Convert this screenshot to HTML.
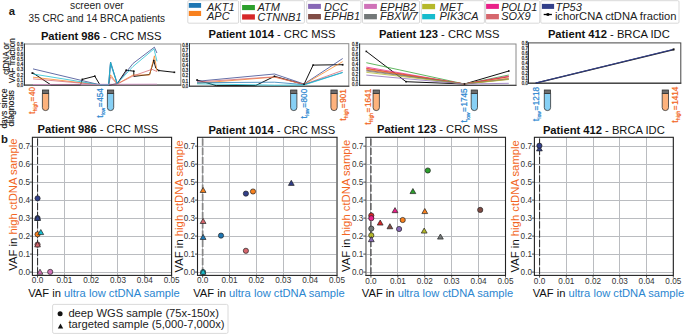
<!DOCTYPE html>
<html><head><meta charset="utf-8"><style>
html,body{margin:0;padding:0;background:#fff;}
svg{display:block;}
text{font-family:"Liberation Sans", sans-serif;}
</style></head><body>
<svg width="685" height="334" viewBox="0 0 685 334">
<rect width="685" height="334" fill="#fff"/>
<text x="8.7" y="14.9" font-size="11.3" fill="#1a1a1a" font-weight="bold" font-style="normal" text-anchor="start" >a</text>
<text x="70.0" y="8.7" font-size="10.8" fill="#222" font-weight="normal" font-style="normal" text-anchor="start" textLength="53.8" lengthAdjust="spacingAndGlyphs">screen over</text>
<text x="28.6" y="22.0" font-size="10.9" fill="#222" font-weight="normal" font-style="normal" text-anchor="start" textLength="136.4" lengthAdjust="spacingAndGlyphs">35 CRC and 14 BRCA patients</text>
<rect x="187.8" y="0.7" width="50.80" height="22.50" rx="1.2" fill="#fff" stroke="#d9d9d9" stroke-width="1"/>
<rect x="188.8" y="3.0" width="12.30" height="4.80" fill="#1f77b4"/>
<text x="207.0" y="10.5" font-size="11.0" fill="#222" font-weight="normal" font-style="italic" text-anchor="start" >AKT1</text>
<rect x="188.8" y="10.9" width="12.30" height="5.10" fill="#f8811e"/>
<text x="207.0" y="19.5" font-size="11.0" fill="#222" font-weight="normal" font-style="italic" text-anchor="start" >APC</text>
<rect x="240.5" y="0.7" width="63.90" height="22.50" rx="1.2" fill="#fff" stroke="#d9d9d9" stroke-width="1"/>
<rect x="242.1" y="5.0" width="12.80" height="5.10" fill="#2ca02c"/>
<text x="257.5" y="11.3" font-size="11.0" fill="#222" font-weight="normal" font-style="italic" text-anchor="start" >ATM</text>
<rect x="242.1" y="14.3" width="12.80" height="5.30" fill="#d62728"/>
<text x="257.5" y="20.6" font-size="11.0" fill="#222" font-weight="normal" font-style="italic" text-anchor="start" >CTNNB1</text>
<rect x="306.7" y="0.7" width="54.30" height="22.50" rx="1.2" fill="#fff" stroke="#d9d9d9" stroke-width="1"/>
<rect x="308.1" y="3.9" width="12.80" height="5.00" fill="#8868b6"/>
<text x="324.0" y="10.5" font-size="11.0" fill="#222" font-weight="normal" font-style="italic" text-anchor="start" >DCC</text>
<rect x="308.1" y="14.0" width="12.80" height="5.30" fill="#804c45"/>
<text x="324.0" y="19.5" font-size="11.0" fill="#222" font-weight="normal" font-style="italic" text-anchor="start" >EPHB1</text>
<rect x="362.5" y="0.7" width="57.00" height="22.50" rx="1.2" fill="#fff" stroke="#d9d9d9" stroke-width="1"/>
<rect x="364.1" y="3.9" width="12.80" height="5.00" fill="#cf72b8"/>
<text x="380.0" y="10.5" font-size="11.0" fill="#222" font-weight="normal" font-style="italic" text-anchor="start" >EPHB2</text>
<rect x="364.1" y="14.0" width="12.80" height="5.30" fill="#737878"/>
<text x="380.0" y="19.5" font-size="11.0" fill="#222" font-weight="normal" font-style="italic" text-anchor="start" >FBXW7</text>
<rect x="421.3" y="0.7" width="63.10" height="22.50" rx="1.2" fill="#fff" stroke="#d9d9d9" stroke-width="1"/>
<rect x="422.2" y="3.9" width="12.90" height="5.30" fill="#b5b82a"/>
<text x="439.5" y="10.5" font-size="11.0" fill="#222" font-weight="normal" font-style="italic" text-anchor="start" >MET</text>
<rect x="422.2" y="14.0" width="12.90" height="5.30" fill="#17bccd"/>
<text x="439.5" y="19.5" font-size="11.0" fill="#222" font-weight="normal" font-style="italic" text-anchor="start" >PIK3CA</text>
<rect x="485.6" y="0.7" width="54.10" height="22.50" rx="1.2" fill="#fff" stroke="#d9d9d9" stroke-width="1"/>
<rect x="486.1" y="3.9" width="12.80" height="5.00" fill="#ea2189"/>
<text x="501.2" y="10.5" font-size="11.0" fill="#222" font-weight="normal" font-style="italic" text-anchor="start" >POLD1</text>
<rect x="486.1" y="14.0" width="12.80" height="5.30" fill="#d6666d"/>
<text x="501.2" y="19.5" font-size="11.0" fill="#222" font-weight="normal" font-style="italic" text-anchor="start" >SOX9</text>
<rect x="540.8" y="0.7" width="138.20" height="22.50" rx="1.2" fill="#fff" stroke="#d9d9d9" stroke-width="1"/>
<rect x="541.9" y="3.9" width="12.20" height="5.00" fill="#323f8a"/>
<text x="555.5" y="10.5" font-size="11.0" fill="#222" font-weight="normal" font-style="italic" text-anchor="start" >TP53</text>
<line x1="543.7" y1="14.5" x2="551.9" y2="14.5" stroke="#000" stroke-width="1.3"/>
<rect x="546.6" y="13.2" width="2.6" height="2.6" fill="#000"/>
<text x="554.9" y="19.5" font-size="11.0" fill="#222" font-weight="normal" font-style="normal" text-anchor="start" textLength="121.6" lengthAdjust="spacingAndGlyphs">ichorCNA ctDNA fraction</text>
<text x="40.9" y="39.9" font-size="11.2" fill="#111"><tspan font-weight="bold">Patient 986</tspan><tspan> - CRC MSS</tspan></text>
<text x="208.6" y="38.0" font-size="11.2" fill="#111"><tspan font-weight="bold">Patient 1014</tspan><tspan> - CRC MSS</tspan></text>
<text x="378.9" y="38.0" font-size="11.2" fill="#111"><tspan font-weight="bold">Patient 123</tspan><tspan> - CRC MSS</tspan></text>
<text x="547.9" y="37.7" font-size="11.2" fill="#111"><tspan font-weight="bold">Patient 412</tspan><tspan> - BRCA IDC</tspan></text>
<rect x="24.4" y="44.0" width="156.40" height="41.10" fill="none" stroke="#8a8a8a" stroke-width="1"/>
<line x1="24.4" y1="43.5" x2="24.4" y2="85.6" stroke="#333" stroke-width="1"/>
<line x1="23.9" y1="85.1" x2="181.3" y2="85.1" stroke="#333" stroke-width="1"/>
<text x="23.1" y="86.55" font-size="5.3" fill="#333" stroke="#333" stroke-width="0.3" text-anchor="end" textLength="6.0" lengthAdjust="spacingAndGlyphs">0.0</text>
<text x="23.1" y="81.52" font-size="5.3" fill="#333" stroke="#333" stroke-width="0.3" text-anchor="end" textLength="6.0" lengthAdjust="spacingAndGlyphs">0.1</text>
<text x="23.1" y="76.50" font-size="5.3" fill="#333" stroke="#333" stroke-width="0.3" text-anchor="end" textLength="6.0" lengthAdjust="spacingAndGlyphs">0.2</text>
<text x="23.1" y="71.47" font-size="5.3" fill="#333" stroke="#333" stroke-width="0.3" text-anchor="end" textLength="6.0" lengthAdjust="spacingAndGlyphs">0.3</text>
<text x="23.1" y="66.45" font-size="5.3" fill="#333" stroke="#333" stroke-width="0.3" text-anchor="end" textLength="6.0" lengthAdjust="spacingAndGlyphs">0.4</text>
<text x="23.1" y="61.42" font-size="5.3" fill="#333" stroke="#333" stroke-width="0.3" text-anchor="end" textLength="6.0" lengthAdjust="spacingAndGlyphs">0.5</text>
<text x="23.1" y="56.40" font-size="5.3" fill="#333" stroke="#333" stroke-width="0.3" text-anchor="end" textLength="6.0" lengthAdjust="spacingAndGlyphs">0.6</text>
<text x="23.1" y="51.38" font-size="5.3" fill="#333" stroke="#333" stroke-width="0.3" text-anchor="end" textLength="6.0" lengthAdjust="spacingAndGlyphs">0.7</text>
<text x="23.1" y="46.35" font-size="5.3" fill="#333" stroke="#333" stroke-width="0.3" text-anchor="end" textLength="6.0" lengthAdjust="spacingAndGlyphs">0.8</text>
<rect x="189.5" y="43.7" width="159.30" height="42.50" fill="none" stroke="#8a8a8a" stroke-width="1"/>
<line x1="189.5" y1="43.2" x2="189.5" y2="86.7" stroke="#333" stroke-width="1"/>
<line x1="189.0" y1="86.2" x2="349.3" y2="86.2" stroke="#333" stroke-width="1"/>
<text x="188.2" y="87.75" font-size="5.3" fill="#333" stroke="#333" stroke-width="0.3" text-anchor="end" textLength="6.0" lengthAdjust="spacingAndGlyphs">0.0</text>
<text x="188.2" y="82.61" font-size="5.3" fill="#333" stroke="#333" stroke-width="0.3" text-anchor="end" textLength="6.0" lengthAdjust="spacingAndGlyphs">0.1</text>
<text x="188.2" y="77.48" font-size="5.3" fill="#333" stroke="#333" stroke-width="0.3" text-anchor="end" textLength="6.0" lengthAdjust="spacingAndGlyphs">0.2</text>
<text x="188.2" y="72.34" font-size="5.3" fill="#333" stroke="#333" stroke-width="0.3" text-anchor="end" textLength="6.0" lengthAdjust="spacingAndGlyphs">0.3</text>
<text x="188.2" y="67.20" font-size="5.3" fill="#333" stroke="#333" stroke-width="0.3" text-anchor="end" textLength="6.0" lengthAdjust="spacingAndGlyphs">0.4</text>
<text x="188.2" y="62.06" font-size="5.3" fill="#333" stroke="#333" stroke-width="0.3" text-anchor="end" textLength="6.0" lengthAdjust="spacingAndGlyphs">0.5</text>
<text x="188.2" y="56.93" font-size="5.3" fill="#333" stroke="#333" stroke-width="0.3" text-anchor="end" textLength="6.0" lengthAdjust="spacingAndGlyphs">0.6</text>
<text x="188.2" y="51.79" font-size="5.3" fill="#333" stroke="#333" stroke-width="0.3" text-anchor="end" textLength="6.0" lengthAdjust="spacingAndGlyphs">0.7</text>
<text x="188.2" y="46.65" font-size="5.3" fill="#333" stroke="#333" stroke-width="0.3" text-anchor="end" textLength="6.0" lengthAdjust="spacingAndGlyphs">0.8</text>
<rect x="359.6" y="44.0" width="156.40" height="41.30" fill="none" stroke="#8a8a8a" stroke-width="1"/>
<line x1="359.6" y1="43.5" x2="359.6" y2="85.8" stroke="#333" stroke-width="1"/>
<line x1="359.1" y1="85.3" x2="516.5" y2="85.3" stroke="#333" stroke-width="1"/>
<text x="358.1" y="85.85" font-size="5.3" fill="#333" stroke="#333" stroke-width="0.3" text-anchor="end" textLength="6.0" lengthAdjust="spacingAndGlyphs">0.0</text>
<text x="358.1" y="80.83" font-size="5.3" fill="#333" stroke="#333" stroke-width="0.3" text-anchor="end" textLength="6.0" lengthAdjust="spacingAndGlyphs">0.1</text>
<text x="358.1" y="75.80" font-size="5.3" fill="#333" stroke="#333" stroke-width="0.3" text-anchor="end" textLength="6.0" lengthAdjust="spacingAndGlyphs">0.2</text>
<text x="358.1" y="70.78" font-size="5.3" fill="#333" stroke="#333" stroke-width="0.3" text-anchor="end" textLength="6.0" lengthAdjust="spacingAndGlyphs">0.3</text>
<text x="358.1" y="65.75" font-size="5.3" fill="#333" stroke="#333" stroke-width="0.3" text-anchor="end" textLength="6.0" lengthAdjust="spacingAndGlyphs">0.4</text>
<text x="358.1" y="60.73" font-size="5.3" fill="#333" stroke="#333" stroke-width="0.3" text-anchor="end" textLength="6.0" lengthAdjust="spacingAndGlyphs">0.5</text>
<text x="358.1" y="55.70" font-size="5.3" fill="#333" stroke="#333" stroke-width="0.3" text-anchor="end" textLength="6.0" lengthAdjust="spacingAndGlyphs">0.6</text>
<text x="358.1" y="50.68" font-size="5.3" fill="#333" stroke="#333" stroke-width="0.3" text-anchor="end" textLength="6.0" lengthAdjust="spacingAndGlyphs">0.7</text>
<text x="358.1" y="45.65" font-size="5.3" fill="#333" stroke="#333" stroke-width="0.3" text-anchor="end" textLength="6.0" lengthAdjust="spacingAndGlyphs">0.8</text>
<rect x="528.4" y="42.9" width="152.40" height="40.30" fill="none" stroke="#444" stroke-width="1"/>
<line x1="528.4" y1="42.4" x2="528.4" y2="83.7" stroke="#333" stroke-width="1"/>
<line x1="527.9" y1="83.2" x2="681.3" y2="83.2" stroke="#333" stroke-width="1"/>
<text x="527.8" y="84.75" font-size="5.3" fill="#333" stroke="#333" stroke-width="0.3" text-anchor="end" textLength="6.0" lengthAdjust="spacingAndGlyphs">0.0</text>
<text x="527.8" y="79.76" font-size="5.3" fill="#333" stroke="#333" stroke-width="0.3" text-anchor="end" textLength="6.0" lengthAdjust="spacingAndGlyphs">0.1</text>
<text x="527.8" y="74.78" font-size="5.3" fill="#333" stroke="#333" stroke-width="0.3" text-anchor="end" textLength="6.0" lengthAdjust="spacingAndGlyphs">0.2</text>
<text x="527.8" y="69.79" font-size="5.3" fill="#333" stroke="#333" stroke-width="0.3" text-anchor="end" textLength="6.0" lengthAdjust="spacingAndGlyphs">0.3</text>
<text x="527.8" y="64.80" font-size="5.3" fill="#333" stroke="#333" stroke-width="0.3" text-anchor="end" textLength="6.0" lengthAdjust="spacingAndGlyphs">0.4</text>
<text x="527.8" y="59.81" font-size="5.3" fill="#333" stroke="#333" stroke-width="0.3" text-anchor="end" textLength="6.0" lengthAdjust="spacingAndGlyphs">0.5</text>
<text x="527.8" y="54.83" font-size="5.3" fill="#333" stroke="#333" stroke-width="0.3" text-anchor="end" textLength="6.0" lengthAdjust="spacingAndGlyphs">0.6</text>
<text x="527.8" y="49.84" font-size="5.3" fill="#333" stroke="#333" stroke-width="0.3" text-anchor="end" textLength="6.0" lengthAdjust="spacingAndGlyphs">0.7</text>
<text x="527.8" y="44.85" font-size="5.3" fill="#333" stroke="#333" stroke-width="0.3" text-anchor="end" textLength="6.0" lengthAdjust="spacingAndGlyphs">0.8</text>
<polyline points="33.0,73.0 50.8,84.8 80.6,84.8 82.3,79.4 94.8,76.2 99.9,84.8 108.5,84.8 110.6,84.8 117.2,83.8 126.2,70.2 133.8,71.2 133.8,76.4 149.6,74.5 153.8,60.6 155.8,68.2 158.6,70.5 174.4,72.3" fill="none" stroke="#111" stroke-width="1.0" stroke-linejoin="round"/>
<polyline points="33.0,77.2 99.9,84.8 108.5,84.8 110.6,74.8 117.2,84.0 133.0,75.0 149.6,75.0 154.4,55.8 157.0,71.0" fill="none" stroke="#f8811e" stroke-width="0.75" stroke-linejoin="round"/>
<polyline points="33.0,78.9 99.9,84.8 108.5,84.8 110.6,76.9 117.2,84.0 133.0,76.0 152.0,69.3 157.0,71.6" fill="none" stroke="#d6666d" stroke-width="0.75" stroke-linejoin="round"/>
<polyline points="33.0,68.9 99.9,84.8 108.5,84.8 110.6,62.0 117.2,83.5 133.1,63.4 154.4,47.2 156.9,53.0" fill="none" stroke="#323f8a" stroke-width="0.75" stroke-linejoin="round"/>
<polyline points="99.9,84.8 109.0,84.8 110.4,63.5 117.2,83.8" fill="none" stroke="#1f77b4" stroke-width="0.75" stroke-linejoin="round"/>
<polyline points="33.0,74.0 99.9,84.8 108.5,84.8 110.6,62.4 117.2,83.5 133.0,66.5 154.0,48.9 157.0,61.3" fill="none" stroke="#17bccd" stroke-width="0.75" stroke-linejoin="round"/>
<polyline points="33.0,84.5 157.0,84.1" fill="none" stroke="#d98cc6" stroke-width="0.7" stroke-linejoin="round"/>
<rect x="31.5" y="72.2" width="1.8" height="1.8" fill="#111"/>
<polyline points="197.0,80.0 216.3,85.6 255.5,85.6 274.5,76.3 304.0,84.4 313.1,65.1 342.7,64.7" fill="none" stroke="#111" stroke-width="1.0" stroke-linejoin="round"/>
<polyline points="197.0,81.3 274.5,74.0 304.0,84.0 342.7,58.5" fill="none" stroke="#323f8a" stroke-width="0.75" stroke-linejoin="round"/>
<polyline points="197.0,83.3 274.5,77.1 304.0,84.4 342.7,61.6" fill="none" stroke="#f8811e" stroke-width="0.75" stroke-linejoin="round"/>
<polyline points="197.0,82.0 274.5,76.8 304.0,84.4 342.7,70.4" fill="none" stroke="#d6666d" stroke-width="0.75" stroke-linejoin="round"/>
<polyline points="197.0,82.7 274.5,82.2 304.0,84.6 342.7,72.3" fill="none" stroke="#1f77b4" stroke-width="0.75" stroke-linejoin="round"/>
<polyline points="197.0,83.8 274.5,85.2 304.0,85.0 342.7,72.6" fill="none" stroke="#17bccd" stroke-width="0.8" stroke-linejoin="round"/>
<rect x="196.2" y="79.2" width="1.7" height="1.7" fill="#111"/>
<rect x="341.8" y="63.9" width="1.7" height="1.7" fill="#111"/>
<polyline points="366.3,51.4 406.0,81.7 464.5,84.0 508.8,71.0" fill="none" stroke="#111" stroke-width="1.0" stroke-linejoin="round"/>
<polyline points="366.3,62.7 464.5,84.0 508.8,75.0" fill="none" stroke="#2ca02c" stroke-width="0.75" stroke-linejoin="round"/>
<polyline points="366.3,67.1 464.5,84.0 508.8,76.0" fill="none" stroke="#ea2189" stroke-width="0.75" stroke-linejoin="round"/>
<polyline points="366.3,68.2 464.5,84.0 508.8,76.5" fill="none" stroke="#d6666d" stroke-width="0.75" stroke-linejoin="round"/>
<polyline points="366.3,68.6 464.5,84.0 508.8,76.8" fill="none" stroke="#d62728" stroke-width="0.75" stroke-linejoin="round"/>
<polyline points="366.3,69.3 464.5,84.0 508.8,78.1" fill="none" stroke="#f8811e" stroke-width="0.75" stroke-linejoin="round"/>
<polyline points="366.3,70.2 464.5,84.0 508.8,79.2" fill="none" stroke="#804c45" stroke-width="0.75" stroke-linejoin="round"/>
<polyline points="366.3,71.0 464.5,84.0 508.8,78.8" fill="none" stroke="#737878" stroke-width="0.75" stroke-linejoin="round"/>
<polyline points="366.3,72.3 464.5,84.0 508.8,79.5" fill="none" stroke="#b5b82a" stroke-width="0.75" stroke-linejoin="round"/>
<polyline points="366.3,75.1 464.5,84.0 508.8,83.3" fill="none" stroke="#8868b6" stroke-width="0.75" stroke-linejoin="round"/>
<polyline points="535.7,83.2 673.8,49.6" fill="none" stroke="#222" stroke-width="1.3" stroke-linejoin="round"/>
<polyline points="535.7,83.0 673.8,49.3" fill="none" stroke="#323f8a" stroke-width="1.1" stroke-linejoin="round"/>
<rect x="672.6" y="48.4" width="2" height="2" fill="#111"/>
<rect x="81.50" y="78.60" width="1.6" height="1.6" fill="#111"/>
<rect x="94.00" y="75.40" width="1.6" height="1.6" fill="#111"/>
<rect x="125.40" y="69.40" width="1.6" height="1.6" fill="#111"/>
<rect x="133.00" y="70.40" width="1.6" height="1.6" fill="#111"/>
<rect x="153.00" y="59.80" width="1.6" height="1.6" fill="#111"/>
<rect x="157.80" y="69.70" width="1.6" height="1.6" fill="#111"/>
<rect x="173.60" y="71.50" width="1.6" height="1.6" fill="#111"/>
<rect x="273.70" y="75.50" width="1.6" height="1.6" fill="#111"/>
<rect x="303.20" y="83.40" width="1.6" height="1.6" fill="#111"/>
<rect x="312.30" y="64.30" width="1.6" height="1.6" fill="#111"/>
<rect x="365.50" y="50.60" width="1.6" height="1.6" fill="#111"/>
<rect x="405.20" y="80.90" width="1.6" height="1.6" fill="#111"/>
<rect x="463.70" y="83.20" width="1.6" height="1.6" fill="#111"/>
<rect x="508.00" y="70.20" width="1.6" height="1.6" fill="#111"/>
<path d="M42.4,93.3 L42.4,107.6 Q42.4,110.6 45.55,110.6 Q48.699999999999996,110.6 48.699999999999996,107.6 L48.699999999999996,93.3 Z" fill="#fdb27c" stroke="#333" stroke-width="0.8"/>
<rect x="42.4" y="90.0" width="6.3" height="3.4" fill="#6d6d6d" stroke="#333" stroke-width="0.8"/>
<text transform="translate(34.80,87.0) rotate(-90)" font-size="8.2" fill="#f26522" text-anchor="end" stroke="#f26522" stroke-width="0.22"><tspan font-size="8.8">t</tspan><tspan font-size="4.8" dy="2.1" dx="0.3">high</tspan><tspan dy="-2.1" dx="0.6">=</tspan><tspan dx="0.6">40</tspan></text>
<path d="M107.4,93.3 L107.4,107.6 Q107.4,110.6 110.55000000000001,110.6 Q113.7,110.6 113.7,107.6 L113.7,93.3 Z" fill="#87d0f5" stroke="#333" stroke-width="0.8"/>
<rect x="107.4" y="90.0" width="6.3" height="3.4" fill="#6d6d6d" stroke="#333" stroke-width="0.8"/>
<text transform="translate(103.10,88.2) rotate(-90)" font-size="8.2" fill="#2b86d0" text-anchor="end" stroke="#2b86d0" stroke-width="0.22"><tspan font-size="8.8">t</tspan><tspan font-size="4.8" dy="2.1" dx="0.3">low</tspan><tspan dy="-2.1" dx="0.6">=</tspan><tspan dx="0.6">454</tspan></text>
<path d="M290.6,93.3 L290.6,107.6 Q290.6,110.6 293.75,110.6 Q296.90000000000003,110.6 296.90000000000003,107.6 L296.90000000000003,93.3 Z" fill="#87d0f5" stroke="#333" stroke-width="0.8"/>
<rect x="290.6" y="90.0" width="6.3" height="3.4" fill="#6d6d6d" stroke="#333" stroke-width="0.8"/>
<text transform="translate(306.80,88.8) rotate(-90)" font-size="8.2" fill="#2b86d0" text-anchor="end" stroke="#2b86d0" stroke-width="0.22"><tspan font-size="8.8">t</tspan><tspan font-size="4.8" dy="2.1" dx="0.3">low</tspan><tspan dy="-2.1" dx="0.6">=</tspan><tspan dx="0.6">800</tspan></text>
<path d="M330.9,93.3 L330.9,107.6 Q330.9,110.6 334.04999999999995,110.6 Q337.2,110.6 337.2,107.6 L337.2,93.3 Z" fill="#fdb27c" stroke="#333" stroke-width="0.8"/>
<rect x="330.9" y="90.0" width="6.3" height="3.4" fill="#6d6d6d" stroke="#333" stroke-width="0.8"/>
<text transform="translate(346.10,89.2) rotate(-90)" font-size="8.2" fill="#f26522" text-anchor="end" stroke="#f26522" stroke-width="0.22"><tspan font-size="8.8">t</tspan><tspan font-size="4.8" dy="2.1" dx="0.3">high</tspan><tspan dy="-2.1" dx="0.6">=</tspan><tspan dx="0.6">901</tspan></text>
<path d="M373.1,93.3 L373.1,107.6 Q373.1,110.6 376.25,110.6 Q379.40000000000003,110.6 379.40000000000003,107.6 L379.40000000000003,93.3 Z" fill="#fdb27c" stroke="#333" stroke-width="0.8"/>
<rect x="373.1" y="90.0" width="6.3" height="3.4" fill="#6d6d6d" stroke="#333" stroke-width="0.8"/>
<text transform="translate(370.70,88.8) rotate(-90)" font-size="8.2" fill="#f26522" text-anchor="end" stroke="#f26522" stroke-width="0.22"><tspan font-size="8.8">t</tspan><tspan font-size="4.8" dy="2.1" dx="0.3">high</tspan><tspan dy="-2.1" dx="0.6">=</tspan><tspan dx="0.6">1641</tspan></text>
<path d="M471.2,93.3 L471.2,107.6 Q471.2,110.6 474.34999999999997,110.6 Q477.5,110.6 477.5,107.6 L477.5,93.3 Z" fill="#87d0f5" stroke="#333" stroke-width="0.8"/>
<rect x="471.2" y="90.0" width="6.3" height="3.4" fill="#6d6d6d" stroke="#333" stroke-width="0.8"/>
<text transform="translate(467.40,88.4) rotate(-90)" font-size="8.2" fill="#2b86d0" text-anchor="end" stroke="#2b86d0" stroke-width="0.22"><tspan font-size="8.8">t</tspan><tspan font-size="4.8" dy="2.1" dx="0.3">low</tspan><tspan dy="-2.1" dx="0.6">=</tspan><tspan dx="0.6">1745</tspan></text>
<path d="M544.3,93.3 L544.3,107.6 Q544.3,110.6 547.4499999999999,110.6 Q550.5999999999999,110.6 550.5999999999999,107.6 L550.5999999999999,93.3 Z" fill="#87d0f5" stroke="#333" stroke-width="0.8"/>
<rect x="544.3" y="90.0" width="6.3" height="3.4" fill="#6d6d6d" stroke="#333" stroke-width="0.8"/>
<text transform="translate(539.10,87.0) rotate(-90)" font-size="8.2" fill="#2b86d0" text-anchor="end" stroke="#2b86d0" stroke-width="0.22"><tspan font-size="8.8">t</tspan><tspan font-size="4.8" dy="2.1" dx="0.3">low</tspan><tspan dy="-2.1" dx="0.6">=</tspan><tspan dx="0.6">1218</tspan></text>
<path d="M662.2,93.3 L662.2,107.6 Q662.2,110.6 665.35,110.6 Q668.5,110.6 668.5,107.6 L668.5,93.3 Z" fill="#fdb27c" stroke="#333" stroke-width="0.8"/>
<rect x="662.2" y="90.0" width="6.3" height="3.4" fill="#6d6d6d" stroke="#333" stroke-width="0.8"/>
<text transform="translate(678.10,86.6) rotate(-90)" font-size="8.2" fill="#f26522" text-anchor="end" stroke="#f26522" stroke-width="0.22"><tspan font-size="8.8">t</tspan><tspan font-size="4.8" dy="2.1" dx="0.3">high</tspan><tspan dy="-2.1" dx="0.6">=</tspan><tspan dx="0.6">1414</tspan></text>
<text transform="translate(9.3,58.6) rotate(-90)" font-size="8.8" fill="#111" stroke="#111" stroke-width="0.12" text-anchor="middle" textLength="32.4" lengthAdjust="spacingAndGlyphs">ctDNA or</text>
<text transform="translate(14.9,60.6) rotate(-90)" font-size="8.8" fill="#111" stroke="#111" stroke-width="0.12" text-anchor="middle" textLength="45.2" lengthAdjust="spacingAndGlyphs">VAF fraction</text>
<text transform="translate(7.2,108.6) rotate(-90)" font-size="8.9" fill="#111" stroke="#111" stroke-width="0.12" text-anchor="middle" textLength="40.0" lengthAdjust="spacingAndGlyphs">days since</text>
<text transform="translate(14.0,108.3) rotate(-90)" font-size="8.9" fill="#111" stroke="#111" stroke-width="0.12" text-anchor="middle" textLength="36.4" lengthAdjust="spacingAndGlyphs">diagnosis</text>
<text x="0.9" y="143.0" font-size="11.3" fill="#1a1a1a" font-weight="bold" font-style="normal" text-anchor="start" >b</text>
<text x="37.6" y="132.8" font-size="11.2" fill="#111"><tspan font-weight="bold">Patient 986</tspan><tspan> - CRC MSS</tspan></text>
<text x="208.4" y="133.5" font-size="11.2" fill="#111"><tspan font-weight="bold">Patient 1014</tspan><tspan> - CRC MSS</tspan></text>
<text x="377.1" y="132.8" font-size="11.2" fill="#111"><tspan font-weight="bold">Patient 123</tspan><tspan> - CRC MSS</tspan></text>
<text x="542.9" y="133.5" font-size="11.2" fill="#111"><tspan font-weight="bold">Patient 412</tspan><tspan> - BRCA IDC</tspan></text>
<line x1="32.4" y1="272.50" x2="171.6" y2="272.50" stroke="#babcc0" stroke-width="1"/>
<line x1="32.4" y1="254.50" x2="171.6" y2="254.50" stroke="#babcc0" stroke-width="1"/>
<line x1="32.4" y1="236.50" x2="171.6" y2="236.50" stroke="#babcc0" stroke-width="1"/>
<line x1="32.4" y1="218.50" x2="171.6" y2="218.50" stroke="#babcc0" stroke-width="1"/>
<line x1="32.4" y1="200.50" x2="171.6" y2="200.50" stroke="#babcc0" stroke-width="1"/>
<line x1="32.4" y1="182.50" x2="171.6" y2="182.50" stroke="#babcc0" stroke-width="1"/>
<line x1="32.4" y1="164.50" x2="171.6" y2="164.50" stroke="#babcc0" stroke-width="1"/>
<line x1="32.4" y1="146.50" x2="171.6" y2="146.50" stroke="#babcc0" stroke-width="1"/>
<line x1="37.50" y1="137.3" x2="37.50" y2="275.4" stroke="#babcc0" stroke-width="1"/>
<line x1="64.50" y1="137.3" x2="64.50" y2="275.4" stroke="#babcc0" stroke-width="1"/>
<line x1="91.50" y1="137.3" x2="91.50" y2="275.4" stroke="#babcc0" stroke-width="1"/>
<line x1="117.50" y1="137.3" x2="117.50" y2="275.4" stroke="#babcc0" stroke-width="1"/>
<line x1="144.50" y1="137.3" x2="144.50" y2="275.4" stroke="#babcc0" stroke-width="1"/>
<line x1="171.50" y1="137.3" x2="171.50" y2="275.4" stroke="#babcc0" stroke-width="1"/>
<line x1="37.55" y1="138.5" x2="37.55" y2="275.4" stroke="#333" stroke-width="1.1" stroke-dasharray="7.2,2"/>
<rect x="32.4" y="137.3" width="139.20" height="138.10" fill="none" stroke="#222" stroke-width="1.1"/>
<line x1="29.9" y1="272.10" x2="32.4" y2="272.10" stroke="#222" stroke-width="0.8"/>
<text x="30.00" y="275.00" font-size="8.2" fill="#333" font-weight="normal" font-style="normal" text-anchor="end" >0.0</text>
<line x1="29.9" y1="254.11" x2="32.4" y2="254.11" stroke="#222" stroke-width="0.8"/>
<text x="30.00" y="257.01" font-size="8.2" fill="#333" font-weight="normal" font-style="normal" text-anchor="end" >0.1</text>
<line x1="29.9" y1="236.12" x2="32.4" y2="236.12" stroke="#222" stroke-width="0.8"/>
<text x="30.00" y="239.02" font-size="8.2" fill="#333" font-weight="normal" font-style="normal" text-anchor="end" >0.2</text>
<line x1="29.9" y1="218.13" x2="32.4" y2="218.13" stroke="#222" stroke-width="0.8"/>
<text x="30.00" y="221.03" font-size="8.2" fill="#333" font-weight="normal" font-style="normal" text-anchor="end" >0.3</text>
<line x1="29.9" y1="200.14" x2="32.4" y2="200.14" stroke="#222" stroke-width="0.8"/>
<text x="30.00" y="203.04" font-size="8.2" fill="#333" font-weight="normal" font-style="normal" text-anchor="end" >0.4</text>
<line x1="29.9" y1="182.15" x2="32.4" y2="182.15" stroke="#222" stroke-width="0.8"/>
<text x="30.00" y="185.05" font-size="8.2" fill="#333" font-weight="normal" font-style="normal" text-anchor="end" >0.5</text>
<line x1="29.9" y1="164.16" x2="32.4" y2="164.16" stroke="#222" stroke-width="0.8"/>
<text x="30.00" y="167.06" font-size="8.2" fill="#333" font-weight="normal" font-style="normal" text-anchor="end" >0.6</text>
<line x1="29.9" y1="146.17" x2="32.4" y2="146.17" stroke="#222" stroke-width="0.8"/>
<text x="30.00" y="149.07" font-size="8.2" fill="#333" font-weight="normal" font-style="normal" text-anchor="end" >0.7</text>
<line x1="37.55" y1="275.4" x2="37.55" y2="277.59999999999997" stroke="#222" stroke-width="0.8"/>
<text x="37.55" y="282.9" font-size="8.2" fill="#333" font-weight="normal" font-style="normal" text-anchor="middle" >0.0</text>
<line x1="64.36" y1="275.4" x2="64.36" y2="277.59999999999997" stroke="#222" stroke-width="0.8"/>
<text x="64.36" y="282.9" font-size="8.2" fill="#333" font-weight="normal" font-style="normal" text-anchor="middle" >0.01</text>
<line x1="91.17" y1="275.4" x2="91.17" y2="277.59999999999997" stroke="#222" stroke-width="0.8"/>
<text x="91.17" y="282.9" font-size="8.2" fill="#333" font-weight="normal" font-style="normal" text-anchor="middle" >0.02</text>
<line x1="117.98" y1="275.4" x2="117.98" y2="277.59999999999997" stroke="#222" stroke-width="0.8"/>
<text x="117.98" y="282.9" font-size="8.2" fill="#333" font-weight="normal" font-style="normal" text-anchor="middle" >0.03</text>
<line x1="144.79" y1="275.4" x2="144.79" y2="277.59999999999997" stroke="#222" stroke-width="0.8"/>
<text x="144.79" y="282.9" font-size="8.2" fill="#333" font-weight="normal" font-style="normal" text-anchor="middle" >0.04</text>
<line x1="171.60" y1="275.4" x2="171.60" y2="277.59999999999997" stroke="#222" stroke-width="0.8"/>
<text x="171.60" y="282.9" font-size="8.2" fill="#333" font-weight="normal" font-style="normal" text-anchor="middle" >0.05</text>
<text x="28.20" y="296.7" font-size="11.2" fill="#111">VAF in <tspan fill="#2b86d0">ultra low ctDNA sample</tspan></text>
<text transform="translate(17.30,270.80) rotate(-90)" font-size="11.3" fill="#111">VAF in <tspan fill="#f26522">high ctDNA sample</tspan></text>
<line x1="197.5" y1="272.50" x2="337.0" y2="272.50" stroke="#babcc0" stroke-width="1"/>
<line x1="197.5" y1="254.50" x2="337.0" y2="254.50" stroke="#babcc0" stroke-width="1"/>
<line x1="197.5" y1="236.50" x2="337.0" y2="236.50" stroke="#babcc0" stroke-width="1"/>
<line x1="197.5" y1="218.50" x2="337.0" y2="218.50" stroke="#babcc0" stroke-width="1"/>
<line x1="197.5" y1="200.50" x2="337.0" y2="200.50" stroke="#babcc0" stroke-width="1"/>
<line x1="197.5" y1="182.50" x2="337.0" y2="182.50" stroke="#babcc0" stroke-width="1"/>
<line x1="197.5" y1="164.50" x2="337.0" y2="164.50" stroke="#babcc0" stroke-width="1"/>
<line x1="197.5" y1="146.50" x2="337.0" y2="146.50" stroke="#babcc0" stroke-width="1"/>
<line x1="202.50" y1="137.3" x2="202.50" y2="275.4" stroke="#babcc0" stroke-width="1"/>
<line x1="229.50" y1="137.3" x2="229.50" y2="275.4" stroke="#babcc0" stroke-width="1"/>
<line x1="256.50" y1="137.3" x2="256.50" y2="275.4" stroke="#babcc0" stroke-width="1"/>
<line x1="283.50" y1="137.3" x2="283.50" y2="275.4" stroke="#babcc0" stroke-width="1"/>
<line x1="310.50" y1="137.3" x2="310.50" y2="275.4" stroke="#babcc0" stroke-width="1"/>
<line x1="337.50" y1="137.3" x2="337.50" y2="275.4" stroke="#babcc0" stroke-width="1"/>
<line x1="202.65" y1="138.5" x2="202.65" y2="275.4" stroke="#888" stroke-width="1.7" stroke-dasharray="7.2,2"/>
<rect x="197.5" y="137.3" width="139.50" height="138.10" fill="none" stroke="#222" stroke-width="1.1"/>
<line x1="337.0" y1="137.9" x2="337.0" y2="274.79999999999995" stroke="#8c8c8c" stroke-width="1.5"/>
<line x1="195.0" y1="272.10" x2="197.5" y2="272.10" stroke="#222" stroke-width="0.8"/>
<text x="195.10" y="275.00" font-size="8.2" fill="#333" font-weight="normal" font-style="normal" text-anchor="end" >0.0</text>
<line x1="195.0" y1="254.11" x2="197.5" y2="254.11" stroke="#222" stroke-width="0.8"/>
<text x="195.10" y="257.01" font-size="8.2" fill="#333" font-weight="normal" font-style="normal" text-anchor="end" >0.1</text>
<line x1="195.0" y1="236.12" x2="197.5" y2="236.12" stroke="#222" stroke-width="0.8"/>
<text x="195.10" y="239.02" font-size="8.2" fill="#333" font-weight="normal" font-style="normal" text-anchor="end" >0.2</text>
<line x1="195.0" y1="218.13" x2="197.5" y2="218.13" stroke="#222" stroke-width="0.8"/>
<text x="195.10" y="221.03" font-size="8.2" fill="#333" font-weight="normal" font-style="normal" text-anchor="end" >0.3</text>
<line x1="195.0" y1="200.14" x2="197.5" y2="200.14" stroke="#222" stroke-width="0.8"/>
<text x="195.10" y="203.04" font-size="8.2" fill="#333" font-weight="normal" font-style="normal" text-anchor="end" >0.4</text>
<line x1="195.0" y1="182.15" x2="197.5" y2="182.15" stroke="#222" stroke-width="0.8"/>
<text x="195.10" y="185.05" font-size="8.2" fill="#333" font-weight="normal" font-style="normal" text-anchor="end" >0.5</text>
<line x1="195.0" y1="164.16" x2="197.5" y2="164.16" stroke="#222" stroke-width="0.8"/>
<text x="195.10" y="167.06" font-size="8.2" fill="#333" font-weight="normal" font-style="normal" text-anchor="end" >0.6</text>
<line x1="195.0" y1="146.17" x2="197.5" y2="146.17" stroke="#222" stroke-width="0.8"/>
<text x="195.10" y="149.07" font-size="8.2" fill="#333" font-weight="normal" font-style="normal" text-anchor="end" >0.7</text>
<line x1="202.65" y1="275.4" x2="202.65" y2="277.59999999999997" stroke="#222" stroke-width="0.8"/>
<text x="202.65" y="283.2" font-size="8.2" fill="#333" font-weight="normal" font-style="normal" text-anchor="middle" >0.0</text>
<line x1="229.52" y1="275.4" x2="229.52" y2="277.59999999999997" stroke="#222" stroke-width="0.8"/>
<text x="229.52" y="283.2" font-size="8.2" fill="#333" font-weight="normal" font-style="normal" text-anchor="middle" >0.01</text>
<line x1="256.39" y1="275.4" x2="256.39" y2="277.59999999999997" stroke="#222" stroke-width="0.8"/>
<text x="256.39" y="283.2" font-size="8.2" fill="#333" font-weight="normal" font-style="normal" text-anchor="middle" >0.02</text>
<line x1="283.26" y1="275.4" x2="283.26" y2="277.59999999999997" stroke="#222" stroke-width="0.8"/>
<text x="283.26" y="283.2" font-size="8.2" fill="#333" font-weight="normal" font-style="normal" text-anchor="middle" >0.03</text>
<line x1="310.13" y1="275.4" x2="310.13" y2="277.59999999999997" stroke="#222" stroke-width="0.8"/>
<text x="310.13" y="283.2" font-size="8.2" fill="#333" font-weight="normal" font-style="normal" text-anchor="middle" >0.04</text>
<line x1="337.00" y1="275.4" x2="337.00" y2="277.59999999999997" stroke="#222" stroke-width="0.8"/>
<text x="337.00" y="283.2" font-size="8.2" fill="#333" font-weight="normal" font-style="normal" text-anchor="middle" >0.05</text>
<text x="193.20" y="296.7" font-size="11.2" fill="#111">VAF in <tspan fill="#2b86d0">ultra low ctDNA sample</tspan></text>
<text transform="translate(183.30,272.40) rotate(-90)" font-size="11.3" fill="#111">VAF in <tspan fill="#f26522">high ctDNA sample</tspan></text>
<line x1="365.8" y1="272.50" x2="505.5" y2="272.50" stroke="#babcc0" stroke-width="1"/>
<line x1="365.8" y1="254.50" x2="505.5" y2="254.50" stroke="#babcc0" stroke-width="1"/>
<line x1="365.8" y1="236.50" x2="505.5" y2="236.50" stroke="#babcc0" stroke-width="1"/>
<line x1="365.8" y1="218.50" x2="505.5" y2="218.50" stroke="#babcc0" stroke-width="1"/>
<line x1="365.8" y1="200.50" x2="505.5" y2="200.50" stroke="#babcc0" stroke-width="1"/>
<line x1="365.8" y1="182.50" x2="505.5" y2="182.50" stroke="#babcc0" stroke-width="1"/>
<line x1="365.8" y1="164.50" x2="505.5" y2="164.50" stroke="#babcc0" stroke-width="1"/>
<line x1="365.8" y1="146.50" x2="505.5" y2="146.50" stroke="#babcc0" stroke-width="1"/>
<line x1="370.50" y1="137.3" x2="370.50" y2="275.4" stroke="#babcc0" stroke-width="1"/>
<line x1="397.50" y1="137.3" x2="397.50" y2="275.4" stroke="#babcc0" stroke-width="1"/>
<line x1="424.50" y1="137.3" x2="424.50" y2="275.4" stroke="#babcc0" stroke-width="1"/>
<line x1="451.50" y1="137.3" x2="451.50" y2="275.4" stroke="#babcc0" stroke-width="1"/>
<line x1="478.50" y1="137.3" x2="478.50" y2="275.4" stroke="#babcc0" stroke-width="1"/>
<line x1="505.50" y1="137.3" x2="505.50" y2="275.4" stroke="#babcc0" stroke-width="1"/>
<line x1="370.95" y1="138.5" x2="370.95" y2="275.4" stroke="#333" stroke-width="1.1" stroke-dasharray="7.2,2"/>
<rect x="365.8" y="137.3" width="139.70" height="138.10" fill="none" stroke="#222" stroke-width="1.1"/>
<line x1="365.8" y1="137.9" x2="365.8" y2="274.79999999999995" stroke="#999" stroke-width="1.6"/>
<line x1="363.3" y1="272.10" x2="365.8" y2="272.10" stroke="#222" stroke-width="0.8"/>
<text x="363.40" y="275.00" font-size="8.2" fill="#333" font-weight="normal" font-style="normal" text-anchor="end" >0.0</text>
<line x1="363.3" y1="254.11" x2="365.8" y2="254.11" stroke="#222" stroke-width="0.8"/>
<text x="363.40" y="257.01" font-size="8.2" fill="#333" font-weight="normal" font-style="normal" text-anchor="end" >0.1</text>
<line x1="363.3" y1="236.12" x2="365.8" y2="236.12" stroke="#222" stroke-width="0.8"/>
<text x="363.40" y="239.02" font-size="8.2" fill="#333" font-weight="normal" font-style="normal" text-anchor="end" >0.2</text>
<line x1="363.3" y1="218.13" x2="365.8" y2="218.13" stroke="#222" stroke-width="0.8"/>
<text x="363.40" y="221.03" font-size="8.2" fill="#333" font-weight="normal" font-style="normal" text-anchor="end" >0.3</text>
<line x1="363.3" y1="200.14" x2="365.8" y2="200.14" stroke="#222" stroke-width="0.8"/>
<text x="363.40" y="203.04" font-size="8.2" fill="#333" font-weight="normal" font-style="normal" text-anchor="end" >0.4</text>
<line x1="363.3" y1="182.15" x2="365.8" y2="182.15" stroke="#222" stroke-width="0.8"/>
<text x="363.40" y="185.05" font-size="8.2" fill="#333" font-weight="normal" font-style="normal" text-anchor="end" >0.5</text>
<line x1="363.3" y1="164.16" x2="365.8" y2="164.16" stroke="#222" stroke-width="0.8"/>
<text x="363.40" y="167.06" font-size="8.2" fill="#333" font-weight="normal" font-style="normal" text-anchor="end" >0.6</text>
<line x1="363.3" y1="146.17" x2="365.8" y2="146.17" stroke="#222" stroke-width="0.8"/>
<text x="363.40" y="149.07" font-size="8.2" fill="#333" font-weight="normal" font-style="normal" text-anchor="end" >0.7</text>
<line x1="370.95" y1="275.4" x2="370.95" y2="277.59999999999997" stroke="#222" stroke-width="0.8"/>
<text x="370.95" y="283.7" font-size="8.2" fill="#333" font-weight="normal" font-style="normal" text-anchor="middle" >0.0</text>
<line x1="397.86" y1="275.4" x2="397.86" y2="277.59999999999997" stroke="#222" stroke-width="0.8"/>
<text x="397.86" y="283.7" font-size="8.2" fill="#333" font-weight="normal" font-style="normal" text-anchor="middle" >0.01</text>
<line x1="424.77" y1="275.4" x2="424.77" y2="277.59999999999997" stroke="#222" stroke-width="0.8"/>
<text x="424.77" y="283.7" font-size="8.2" fill="#333" font-weight="normal" font-style="normal" text-anchor="middle" >0.02</text>
<line x1="451.68" y1="275.4" x2="451.68" y2="277.59999999999997" stroke="#222" stroke-width="0.8"/>
<text x="451.68" y="283.7" font-size="8.2" fill="#333" font-weight="normal" font-style="normal" text-anchor="middle" >0.03</text>
<line x1="478.59" y1="275.4" x2="478.59" y2="277.59999999999997" stroke="#222" stroke-width="0.8"/>
<text x="478.59" y="283.7" font-size="8.2" fill="#333" font-weight="normal" font-style="normal" text-anchor="middle" >0.04</text>
<line x1="505.50" y1="275.4" x2="505.50" y2="277.59999999999997" stroke="#222" stroke-width="0.8"/>
<text x="505.50" y="283.7" font-size="8.2" fill="#333" font-weight="normal" font-style="normal" text-anchor="middle" >0.05</text>
<text x="361.80" y="296.7" font-size="11.2" fill="#111">VAF in <tspan fill="#2b86d0">ultra low ctDNA sample</tspan></text>
<text transform="translate(350.30,271.90) rotate(-90)" font-size="11.3" fill="#111">VAF in <tspan fill="#f26522">high ctDNA sample</tspan></text>
<line x1="534.4" y1="272.50" x2="673.3" y2="272.50" stroke="#babcc0" stroke-width="1"/>
<line x1="534.4" y1="254.50" x2="673.3" y2="254.50" stroke="#babcc0" stroke-width="1"/>
<line x1="534.4" y1="236.50" x2="673.3" y2="236.50" stroke="#babcc0" stroke-width="1"/>
<line x1="534.4" y1="218.50" x2="673.3" y2="218.50" stroke="#babcc0" stroke-width="1"/>
<line x1="534.4" y1="200.50" x2="673.3" y2="200.50" stroke="#babcc0" stroke-width="1"/>
<line x1="534.4" y1="182.50" x2="673.3" y2="182.50" stroke="#babcc0" stroke-width="1"/>
<line x1="534.4" y1="164.50" x2="673.3" y2="164.50" stroke="#babcc0" stroke-width="1"/>
<line x1="534.4" y1="146.50" x2="673.3" y2="146.50" stroke="#babcc0" stroke-width="1"/>
<line x1="539.50" y1="137.3" x2="539.50" y2="275.4" stroke="#babcc0" stroke-width="1"/>
<line x1="566.50" y1="137.3" x2="566.50" y2="275.4" stroke="#babcc0" stroke-width="1"/>
<line x1="593.50" y1="137.3" x2="593.50" y2="275.4" stroke="#babcc0" stroke-width="1"/>
<line x1="619.50" y1="137.3" x2="619.50" y2="275.4" stroke="#babcc0" stroke-width="1"/>
<line x1="646.50" y1="137.3" x2="646.50" y2="275.4" stroke="#babcc0" stroke-width="1"/>
<line x1="673.50" y1="137.3" x2="673.50" y2="275.4" stroke="#babcc0" stroke-width="1"/>
<line x1="539.55" y1="138.5" x2="539.55" y2="275.4" stroke="#333" stroke-width="1.1" stroke-dasharray="7.2,2"/>
<rect x="534.4" y="137.3" width="138.90" height="138.10" fill="none" stroke="#222" stroke-width="1.1"/>
<line x1="531.9" y1="272.10" x2="534.4" y2="272.10" stroke="#222" stroke-width="0.8"/>
<text x="532.00" y="275.00" font-size="8.2" fill="#333" font-weight="normal" font-style="normal" text-anchor="end" >0.0</text>
<line x1="531.9" y1="254.11" x2="534.4" y2="254.11" stroke="#222" stroke-width="0.8"/>
<text x="532.00" y="257.01" font-size="8.2" fill="#333" font-weight="normal" font-style="normal" text-anchor="end" >0.1</text>
<line x1="531.9" y1="236.12" x2="534.4" y2="236.12" stroke="#222" stroke-width="0.8"/>
<text x="532.00" y="239.02" font-size="8.2" fill="#333" font-weight="normal" font-style="normal" text-anchor="end" >0.2</text>
<line x1="531.9" y1="218.13" x2="534.4" y2="218.13" stroke="#222" stroke-width="0.8"/>
<text x="532.00" y="221.03" font-size="8.2" fill="#333" font-weight="normal" font-style="normal" text-anchor="end" >0.3</text>
<line x1="531.9" y1="200.14" x2="534.4" y2="200.14" stroke="#222" stroke-width="0.8"/>
<text x="532.00" y="203.04" font-size="8.2" fill="#333" font-weight="normal" font-style="normal" text-anchor="end" >0.4</text>
<line x1="531.9" y1="182.15" x2="534.4" y2="182.15" stroke="#222" stroke-width="0.8"/>
<text x="532.00" y="185.05" font-size="8.2" fill="#333" font-weight="normal" font-style="normal" text-anchor="end" >0.5</text>
<line x1="531.9" y1="164.16" x2="534.4" y2="164.16" stroke="#222" stroke-width="0.8"/>
<text x="532.00" y="167.06" font-size="8.2" fill="#333" font-weight="normal" font-style="normal" text-anchor="end" >0.6</text>
<line x1="531.9" y1="146.17" x2="534.4" y2="146.17" stroke="#222" stroke-width="0.8"/>
<text x="532.00" y="149.07" font-size="8.2" fill="#333" font-weight="normal" font-style="normal" text-anchor="end" >0.7</text>
<line x1="539.55" y1="275.4" x2="539.55" y2="277.59999999999997" stroke="#222" stroke-width="0.8"/>
<text x="539.55" y="284.4" font-size="8.2" fill="#333" font-weight="normal" font-style="normal" text-anchor="middle" >0.0</text>
<line x1="566.30" y1="275.4" x2="566.30" y2="277.59999999999997" stroke="#222" stroke-width="0.8"/>
<text x="566.30" y="284.4" font-size="8.2" fill="#333" font-weight="normal" font-style="normal" text-anchor="middle" >0.01</text>
<line x1="593.05" y1="275.4" x2="593.05" y2="277.59999999999997" stroke="#222" stroke-width="0.8"/>
<text x="593.05" y="284.4" font-size="8.2" fill="#333" font-weight="normal" font-style="normal" text-anchor="middle" >0.02</text>
<line x1="619.80" y1="275.4" x2="619.80" y2="277.59999999999997" stroke="#222" stroke-width="0.8"/>
<text x="619.80" y="284.4" font-size="8.2" fill="#333" font-weight="normal" font-style="normal" text-anchor="middle" >0.03</text>
<line x1="646.55" y1="275.4" x2="646.55" y2="277.59999999999997" stroke="#222" stroke-width="0.8"/>
<text x="646.55" y="284.4" font-size="8.2" fill="#333" font-weight="normal" font-style="normal" text-anchor="middle" >0.04</text>
<line x1="673.30" y1="275.4" x2="673.30" y2="277.59999999999997" stroke="#222" stroke-width="0.8"/>
<text x="673.30" y="284.4" font-size="8.2" fill="#333" font-weight="normal" font-style="normal" text-anchor="middle" >0.05</text>
<text x="532.70" y="296.7" font-size="11.2" fill="#111">VAF in <tspan fill="#2b86d0">ultra low ctDNA sample</tspan></text>
<text transform="translate(518.90,272.40) rotate(-90)" font-size="11.3" fill="#111">VAF in <tspan fill="#f26522">high ctDNA sample</tspan></text>
<circle cx="37.55" cy="198.34" r="2.6" fill="#323f8a" stroke="#222" stroke-width="0.7"/>
<circle cx="37.55" cy="218.13" r="2.6" fill="#323f8a" stroke="#222" stroke-width="0.7"/>
<path d="M37.55,215.23 L40.45,220.31 L34.65,220.31 Z" fill="#17bccd" stroke="#222" stroke-width="0.7" stroke-linejoin="round"/>
<path d="M37.55,215.23 L40.45,220.31 L34.65,220.31 Z" fill="#323f8a" stroke="#222" stroke-width="0.7" stroke-linejoin="round"/>
<circle cx="37.55" cy="234.32" r="2.6" fill="#f8811e" stroke="#222" stroke-width="0.7"/>
<path d="M40.80,229.50 L43.70,234.58 L37.90,234.58 Z" fill="#17bccd" stroke="#222" stroke-width="0.7" stroke-linejoin="round"/>
<circle cx="37.55" cy="244.58" r="2.6" fill="#d6666d" stroke="#222" stroke-width="0.7"/>
<path d="M37.55,241.80 L40.45,246.88 L34.65,246.88 Z" fill="#d6666d" stroke="#222" stroke-width="0.7" stroke-linejoin="round"/>
<path d="M40.00,269.20 L42.90,274.28 L37.10,274.28 Z" fill="#cf72b8" stroke="#222" stroke-width="0.7" stroke-linejoin="round"/>
<circle cx="50.20" cy="271.90" r="2.6" fill="#cf72b8" stroke="#222" stroke-width="0.7"/>
<path d="M291.30,180.30 L294.20,185.38 L288.40,185.38 Z" fill="#323f8a" stroke="#222" stroke-width="0.7" stroke-linejoin="round"/>
<circle cx="245.90" cy="193.60" r="2.6" fill="#323f8a" stroke="#222" stroke-width="0.7"/>
<circle cx="253.00" cy="191.50" r="2.6" fill="#f8811e" stroke="#222" stroke-width="0.7"/>
<path d="M203.10,187.40 L206.00,192.48 L200.20,192.48 Z" fill="#f8811e" stroke="#222" stroke-width="0.7" stroke-linejoin="round"/>
<path d="M203.10,218.40 L206.00,223.48 L200.20,223.48 Z" fill="#d6666d" stroke="#222" stroke-width="0.7" stroke-linejoin="round"/>
<path d="M203.10,234.40 L206.00,239.48 L200.20,239.48 Z" fill="#1f77b4" stroke="#222" stroke-width="0.7" stroke-linejoin="round"/>
<circle cx="221.00" cy="235.60" r="2.6" fill="#1f77b4" stroke="#222" stroke-width="0.7"/>
<circle cx="245.90" cy="250.80" r="2.6" fill="#d6666d" stroke="#222" stroke-width="0.7"/>
<circle cx="203.10" cy="272.10" r="2.6" fill="#17bccd" stroke="#222" stroke-width="0.7"/>
<path d="M203.10,269.20 L206.00,274.28 L200.20,274.28 Z" fill="#17bccd" stroke="#222" stroke-width="0.7" stroke-linejoin="round"/>
<path d="M412.90,188.50 L415.80,193.58 L410.00,193.58 Z" fill="#2ca02c" stroke="#222" stroke-width="0.7" stroke-linejoin="round"/>
<circle cx="427.80" cy="170.50" r="2.6" fill="#2ca02c" stroke="#222" stroke-width="0.7"/>
<circle cx="480.20" cy="209.90" r="2.6" fill="#804c45" stroke="#222" stroke-width="0.7"/>
<path d="M424.80,208.50 L427.70,213.58 L421.90,213.58 Z" fill="#f8811e" stroke="#222" stroke-width="0.7" stroke-linejoin="round"/>
<path d="M395.00,207.60 L397.90,212.68 L392.10,212.68 Z" fill="#ea2189" stroke="#222" stroke-width="0.7" stroke-linejoin="round"/>
<circle cx="371.30" cy="215.50" r="2.6" fill="#d62728" stroke="#222" stroke-width="0.7"/>
<circle cx="371.30" cy="218.20" r="2.6" fill="#ea2189" stroke="#222" stroke-width="0.7"/>
<circle cx="402.70" cy="220.00" r="2.6" fill="#f8811e" stroke="#222" stroke-width="0.7"/>
<path d="M380.20,220.00 L383.10,225.08 L377.30,225.08 Z" fill="#d62728" stroke="#222" stroke-width="0.7" stroke-linejoin="round"/>
<path d="M389.90,223.70 L392.80,228.78 L387.00,228.78 Z" fill="#804c45" stroke="#222" stroke-width="0.7" stroke-linejoin="round"/>
<circle cx="399.10" cy="229.00" r="2.6" fill="#8868b6" stroke="#222" stroke-width="0.7"/>
<circle cx="371.30" cy="228.60" r="2.6" fill="#737878" stroke="#222" stroke-width="0.7"/>
<path d="M424.20,228.00 L427.10,233.08 L421.30,233.08 Z" fill="#b5b82a" stroke="#222" stroke-width="0.7" stroke-linejoin="round"/>
<path d="M440.40,234.00 L443.30,239.08 L437.50,239.08 Z" fill="#737878" stroke="#222" stroke-width="0.7" stroke-linejoin="round"/>
<circle cx="371.30" cy="235.30" r="2.6" fill="#b5b82a" stroke="#222" stroke-width="0.7"/>
<path d="M371.30,236.60 L374.20,241.68 L368.40,241.68 Z" fill="#8868b6" stroke="#222" stroke-width="0.7" stroke-linejoin="round"/>
<path d="M539.40,145.80 L542.30,150.88 L536.50,150.88 Z" fill="#323f8a" stroke="#222" stroke-width="0.7" stroke-linejoin="round"/>
<circle cx="539.40" cy="145.70" r="2.6" fill="#323f8a" stroke="#222" stroke-width="0.7"/>
<rect x="52.6" y="304.4" width="175.4" height="29" rx="1.5" fill="#fff" stroke="#dadada" stroke-width="1"/>
<circle cx="60.1" cy="313.8" r="2.5" fill="#111"/>
<path d="M60.5,323.6 L63.2,328.6 L57.8,328.6 Z" fill="#111"/>
<text x="68.4" y="316.6" font-size="11.2" fill="#222" font-weight="normal" font-style="normal" text-anchor="start" >deep WGS sample (75x-150x)</text>
<text x="68.4" y="328.0" font-size="11.2" fill="#222" font-weight="normal" font-style="normal" text-anchor="start" >targeted sample (5,000-7,000x)</text>
</svg></body></html>
